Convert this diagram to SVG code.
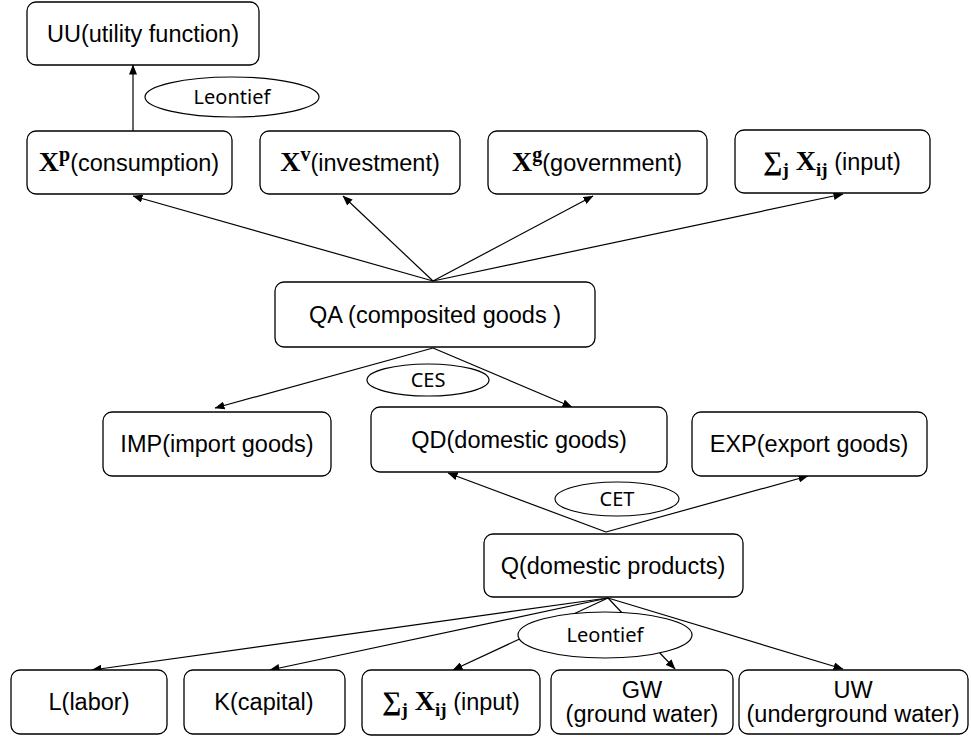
<svg xmlns="http://www.w3.org/2000/svg" width="971" height="740" viewBox="0 0 971 740">
  <style>
    .box { fill: #fff; stroke: #000; stroke-width: 1.3; }
    .oval { fill: #fff; stroke: #000; stroke-width: 1.2; }
    .t { font-family: "Liberation Sans", Arial, sans-serif; font-size: 23.5px; fill: #000; }
    .s { font-family: "Noto Sans", "Open Sans", sans-serif; font-size: 20px; fill: #000; }
    .m { font-family: "Liberation Serif", "DejaVu Serif", serif; font-weight: bold; }
    .edge { fill: none; stroke: #000; stroke-width: 1.2; }
  </style>
  <defs>
    <marker id="arrow" viewBox="0 0 10 8" refX="9.5" refY="4" markerWidth="10" markerHeight="8" markerUnits="userSpaceOnUse" orient="auto">
      <path d="M0,0 L10,4 L0,8 Z" fill="#000"/>
    </marker>
  </defs>

  <rect width="971" height="740" fill="#fff"/>

  <!-- connectors (drawn first so the ovals sit over them) -->
  <g id="connectors" class="edge" marker-end="url(#arrow)">
    <line x1="133" y1="131" x2="133" y2="65"/>
    <line x1="433" y1="281" x2="133" y2="196"/>
    <line x1="433" y1="281" x2="343" y2="196"/>
    <line x1="433" y1="281" x2="593" y2="196"/>
    <line x1="433" y1="281" x2="843" y2="194"/>
    <line x1="433" y1="348" x2="215" y2="408"/>
    <line x1="433" y1="348" x2="572" y2="407"/>
    <line x1="606" y1="532" x2="448" y2="473"/>
    <line x1="606" y1="532" x2="808" y2="476"/>
    <line x1="608" y1="598" x2="92" y2="670"/>
    <line x1="608" y1="598" x2="270" y2="670"/>
    <line x1="608" y1="598" x2="453" y2="670"/>
    <line x1="608" y1="598" x2="675" y2="669"/>
    <line x1="608" y1="598" x2="843" y2="669"/>
  </g>

  <!-- function-form labels -->
  <g id="leontief-top">
    <ellipse class="oval" cx="232" cy="97" rx="87" ry="20"/>
    <text class="s" x="232" y="104" text-anchor="middle">Leontief</text>
  </g>
  <g id="ces">
    <ellipse class="oval" cx="428" cy="380" rx="61" ry="16"/>
    <text class="s" x="428" y="387" text-anchor="middle">CES</text>
  </g>
  <g id="cet">
    <ellipse class="oval" cx="617" cy="499" rx="62" ry="17"/>
    <text class="s" x="617" y="506" text-anchor="middle">CET</text>
  </g>
  <g id="leontief-bottom">
    <ellipse class="oval" cx="605" cy="635" rx="87" ry="23"/>
    <text class="s" x="605" y="642" text-anchor="middle">Leontief</text>
  </g>

  <!-- nodes -->
  <g id="uu">
    <rect class="box" x="27" y="2" width="232" height="63" rx="9"/>
    <text class="t" x="143" y="42" text-anchor="middle">UU(utility function)</text>
  </g>
  <g id="xp">
    <rect class="box" x="27" y="131" width="205" height="63" rx="9"/>
    <text class="t" x="129" y="171" text-anchor="middle"><tspan class="m" font-size="28">X</tspan><tspan class="m" font-size="20" dy="-10">p</tspan><tspan dy="10">(consumption)</tspan></text>
  </g>
  <g id="xv">
    <rect class="box" x="260" y="131" width="200" height="63" rx="9"/>
    <text class="t" x="360" y="171" text-anchor="middle"><tspan class="m" font-size="28">X</tspan><tspan class="m" font-size="20" dy="-10">v</tspan><tspan dy="10">(investment)</tspan></text>
  </g>
  <g id="xg">
    <rect class="box" x="488" y="131" width="219" height="63" rx="9"/>
    <text class="t" x="597" y="171" text-anchor="middle"><tspan class="m" font-size="28">X</tspan><tspan class="m" font-size="20" dy="-10">g</tspan><tspan dy="10">(government)</tspan></text>
  </g>
  <g id="input-top">
    <rect class="box" x="735" y="130" width="195" height="63" rx="9"/>
    <text class="t" x="832" y="170" text-anchor="middle"><tspan class="m" font-weight="normal" font-size="27">∑</tspan><tspan class="m" font-size="19" dy="6">j</tspan><tspan class="m" font-size="28" dy="-6"> X</tspan><tspan class="m" font-size="19" dy="6">ij</tspan><tspan dy="-6"> (input)</tspan></text>
  </g>
  <g id="qa">
    <rect class="box" x="275" y="282" width="320" height="65" rx="9"/>
    <text class="t" x="435" y="323" text-anchor="middle">QA (composited goods )</text>
  </g>
  <g id="imp">
    <rect class="box" x="103" y="412" width="228" height="64" rx="9"/>
    <text class="t" x="217" y="452" text-anchor="middle">IMP(import goods)</text>
  </g>
  <g id="qd">
    <rect class="box" x="371" y="407" width="296" height="65" rx="9"/>
    <text class="t" x="519" y="448" text-anchor="middle">QD(domestic goods)</text>
  </g>
  <g id="exp">
    <rect class="box" x="692" y="412" width="235" height="64" rx="9"/>
    <text class="t" x="809" y="452" text-anchor="middle">EXP(export goods)</text>
  </g>
  <g id="q">
    <rect class="box" x="484" y="534" width="259" height="63" rx="9"/>
    <text class="t" x="613" y="574" text-anchor="middle">Q(domestic products)</text>
  </g>
  <g id="labor">
    <rect class="box" x="11" y="670" width="156" height="64" rx="9"/>
    <text class="t" x="89" y="710" text-anchor="middle">L(labor)</text>
  </g>
  <g id="capital">
    <rect class="box" x="184" y="670" width="161" height="64" rx="9"/>
    <text class="t" x="264" y="710" text-anchor="middle">K(capital)</text>
  </g>
  <g id="input-bottom">
    <rect class="box" x="362" y="670" width="178" height="65" rx="9"/>
    <text class="t" x="451" y="710" text-anchor="middle"><tspan class="m" font-weight="normal" font-size="27">∑</tspan><tspan class="m" font-size="19" dy="6">j</tspan><tspan class="m" font-size="28" dy="-6"> X</tspan><tspan class="m" font-size="19" dy="6">ij</tspan><tspan dy="-6"> (input)</tspan></text>
  </g>
  <g id="gw">
    <rect class="box" x="551" y="670" width="182" height="64" rx="9"/>
    <text class="t" x="642" y="698" text-anchor="middle">GW</text>
    <text class="t" x="642" y="722" text-anchor="middle">(ground water)</text>
  </g>
  <g id="uw">
    <rect class="box" x="739" y="670" width="229" height="64" rx="9"/>
    <text class="t" x="853" y="698" text-anchor="middle">UW</text>
    <text class="t" x="853" y="722" text-anchor="middle">(underground water)</text>
  </g>
</svg>
